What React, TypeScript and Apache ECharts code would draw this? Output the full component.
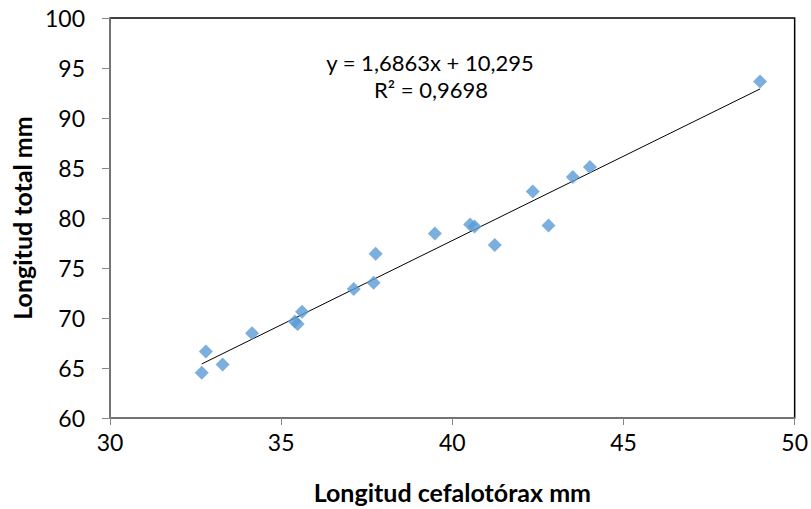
import React, { useEffect, useRef } from "react";
import * as echarts from "echarts";

const cefalotorax = [32.68, 32.8, 33.29, 34.15, 35.4, 35.48, 35.61, 37.12, 37.7, 37.76, 39.49, 40.52, 40.65, 41.24, 42.35, 42.81, 43.52, 44.02, 48.99];
const total = [64.52, 66.64, 65.35, 68.48, 69.65, 69.4, 70.63, 72.9, 73.53, 76.42, 78.45, 79.35, 79.15, 77.29, 82.64, 79.25, 84.1, 85.1, 93.65];
const slope = 1.6863;
const intercept = 10.295;
const equationLines = ["y = 1,6863x + 10,295", "R² = 0,9698"];
const xTitle = "Longitud cefalotórax mm";
const yTitle = "Longitud total mm";

const FONT = "Lato, 'Open Sans', sans-serif";

export default function App() {
  const ref = useRef<HTMLDivElement>(null);
  useEffect(() => {
    document.body.style.margin = "0";
    if (!ref.current) return;
    const chart = echarts.init(ref.current, null, { renderer: "svg" });
    const pts = cefalotorax.map((x, i) => [x, total[i]]);
    const xMin = Math.min(...cefalotorax);
    const xMax = Math.max(...cefalotorax);
    const trend = [
      [xMin, slope * xMin + intercept],
      [xMax, slope * xMax + intercept],
    ];
    chart.setOption({
      animation: false,
      backgroundColor: "#ffffff",
      textStyle: { fontFamily: FONT },
      grid: {
        left: 110,
        right: 16,
        top: 18,
        bottom: 90,
        show: true,
        borderColor: "#000000",
        borderWidth: 1.5,
        backgroundColor: "transparent",
      },
      xAxis: {
        type: "value",
        min: 30,
        max: 50,
        interval: 5,
        splitLine: { show: false },
        axisLine: { show: true, onZero: false, lineStyle: { color: "#868686", width: 1.5 } },
        axisTick: { show: true, length: 7, lineStyle: { color: "#868686" } },
        axisLabel: { color: "#000", fontSize: 23, margin: 12, fontFamily: FONT },
        name: xTitle,
        nameLocation: "middle",
        nameGap: 61,
        nameTextStyle: { color: "#000", fontSize: 25, fontWeight: "bold", fontFamily: FONT },
      },
      yAxis: {
        type: "value",
        min: 60,
        max: 100,
        interval: 5,
        splitLine: { show: false },
        axisLine: { show: true, onZero: false, lineStyle: { color: "#868686", width: 1.5 } },
        axisTick: { show: true, length: 8, lineStyle: { color: "#868686" } },
        axisLabel: { color: "#000", fontSize: 23, margin: 25, fontFamily: FONT },
        name: yTitle,
        nameLocation: "middle",
        nameGap: 75,
        nameRotate: 90,
        nameTextStyle: { color: "#000", fontSize: 25, fontWeight: "bold", fontFamily: FONT },
      },
      series: [
        {
          type: "line",
          data: trend,
          showSymbol: false,
          symbol: "none",
          lineStyle: { color: "#000000", width: 1 },
          silent: true,
          z: 1,
        },
        {
          type: "scatter",
          data: pts,
          symbol: "diamond",
          symbolSize: 14,
          itemStyle: { color: "#5B9BD5" },
          z: 2,
        },
      ],
      graphic: [
        {
          type: "text",
          x: 430,
          y: 62,
          style: {
            text: equationLines[0],
            fontSize: 22,
            fontFamily: FONT,
            fill: "#000",
            align: "center",
            verticalAlign: "middle",
          },
        },
        {
          type: "text",
          x: 431,
          y: 89,
          style: {
            text: equationLines[1],
            fontSize: 22,
            fontFamily: FONT,
            fill: "#000",
            align: "center",
            verticalAlign: "middle",
          },
        },
      ],
    });
    return () => chart.dispose();
  }, []);
  return <div ref={ref} style={{ width: 811, height: 509 }} />;
}
